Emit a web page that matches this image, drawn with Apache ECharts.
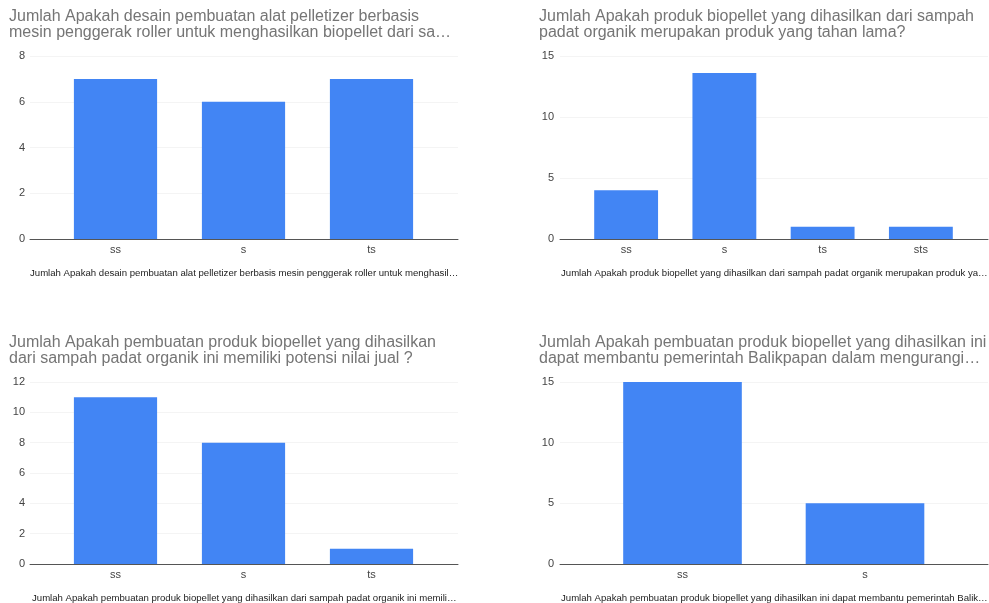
<!DOCTYPE html>
<html>
<head>
<meta charset="utf-8">
<script src="https://cdn.jsdelivr.net/npm/echarts@6/dist/echarts.min.js"></script>
<style>
html,body{margin:0;padding:0;background:#fff;}
#c{width:989px;height:603px;}
</style>
</head>
<body>
<div id="c"></div>
<script>
// ---- data ----
const titles = [
  'Jumlah Apakah desain pembuatan alat pelletizer berbasis\nmesin penggerak roller untuk menghasilkan biopellet dari sa…',
  'Jumlah Apakah produk biopellet yang dihasilkan dari sampah\npadat organik merupakan produk yang tahan lama?',
  'Jumlah Apakah pembuatan produk biopellet yang dihasilkan\ndari sampah padat organik ini memiliki potensi nilai jual ?',
  'Jumlah Apakah pembuatan produk biopellet yang dihasilkan ini\ndapat membantu pemerintah Balikpapan dalam mengurangi…'
];
const axisNames = [
  'Jumlah Apakah desain pembuatan alat pelletizer berbasis mesin penggerak roller untuk menghasil…',
  'Jumlah Apakah produk biopellet yang dihasilkan dari sampah padat organik merupakan produk ya…',
  'Jumlah Apakah pembuatan produk biopellet yang dihasilkan dari sampah padat organik ini memili…',
  'Jumlah Apakah pembuatan produk biopellet yang dihasilkan ini dapat membantu pemerintah Balik…'
];
const cats1 = ['ss', 's', 'ts'];
const vals1 = [7, 6, 7];
const cats2 = ['ss', 's', 'ts', 'sts'];
const vals2 = [4, 13.6, 1, 1];
const cats3 = ['ss', 's', 'ts'];
const vals3 = [11, 8, 1];
const cats4 = ['ss', 's'];
const vals4 = [15, 5];
const yMax = [8, 15, 12, 15];
const yStep = [2, 5, 2, 5];

// ---- layout ----
const cats = [cats1, cats2, cats3, cats4];
const vals = [vals1, vals2, vals3, vals4];
const gridA = [
  {left: 30, top: 56, width: 428, height: 183},
  {left: 560, top: 56, width: 428, height: 183},
  {left: 30, top: 382, width: 428, height: 182},
  {left: 560, top: 382, width: 428, height: 182}
];
const gridB = [
  {left: 51.5, width: 384},
  {left: 577, width: 393},
  {left: 51.5, width: 384},
  {left: 591.25, width: 365}
];
const titlePos = [
  {left: 9, top: 9},
  {left: 539, top: 9},
  {left: 9, top: 335},
  {left: 539, top: 335}
];
const namePos = [
  {left: 30, top: 267},
  {left: 561, top: 267},
  {left: 32, top: 592},
  {left: 561, top: 592}
];

const FONT = '"Liberation Sans", Arial, sans-serif';
const grids = [], xAxes = [], yAxes = [], series = [], titleArr = [];
for (let i = 0; i < 4; i++) {
  const a = gridA[i];
  grids.push({left: a.left, top: a.top, width: a.width, height: a.height});
  grids.push({left: gridB[i].left, top: a.top, width: gridB[i].width, height: a.height});
  // frame axes (grid A)
  xAxes.push({
    gridIndex: 2 * i, type: 'value', min: 0, max: 1,
    axisLine: {show: true, lineStyle: {color: '#555', width: 1}},
    axisTick: {show: false}, axisLabel: {show: false}, splitLine: {show: false}
  });
  yAxes.push({
    gridIndex: 2 * i, type: 'value', min: 0, max: yMax[i], interval: yStep[i],
    axisLine: {show: false}, axisTick: {show: false},
    axisLabel: {color: '#444', fontSize: 11, fontFamily: FONT, margin: i % 2 ? 6 : 5},
    splitLine: {show: true, lineStyle: {color: '#f4f4f4', width: 1}}
  });
  // data axes (grid B)
  xAxes.push({
    gridIndex: 2 * i + 1, type: 'category', data: cats[i],
    axisLine: {show: false}, axisTick: {show: false},
    axisLabel: {color: '#444', fontSize: 11, fontFamily: FONT, margin: 5}
  });
  yAxes.push({
    gridIndex: 2 * i + 1, type: 'value', min: 0, max: yMax[i], interval: yStep[i], show: false
  });
  series.push({
    type: 'bar', xAxisIndex: 2 * i + 1, yAxisIndex: 2 * i + 1,
    data: vals[i], barWidth: '65%',
    itemStyle: {color: '#4285f4'}
  });
  titleArr.push({
    text: titles[i], left: titlePos[i].left, top: titlePos[i].top, padding: 0,
    textStyle: {color: '#757575', fontSize: 16, fontWeight: 'normal', fontFamily: FONT, lineHeight: 16}
  });
  titleArr.push({
    text: axisNames[i], left: namePos[i].left, top: namePos[i].top, padding: 0,
    textStyle: {color: '#222', fontSize: 9.6, fontWeight: 'normal', fontFamily: FONT, lineHeight: 12}
  });
}

const chart = echarts.init(document.getElementById('c'));
chart.setOption({
  animation: false,
  backgroundColor: '#fff',
  title: titleArr,
  grid: grids,
  xAxis: xAxes,
  yAxis: yAxes,
  series: series
});
</script>
</body>
</html>
